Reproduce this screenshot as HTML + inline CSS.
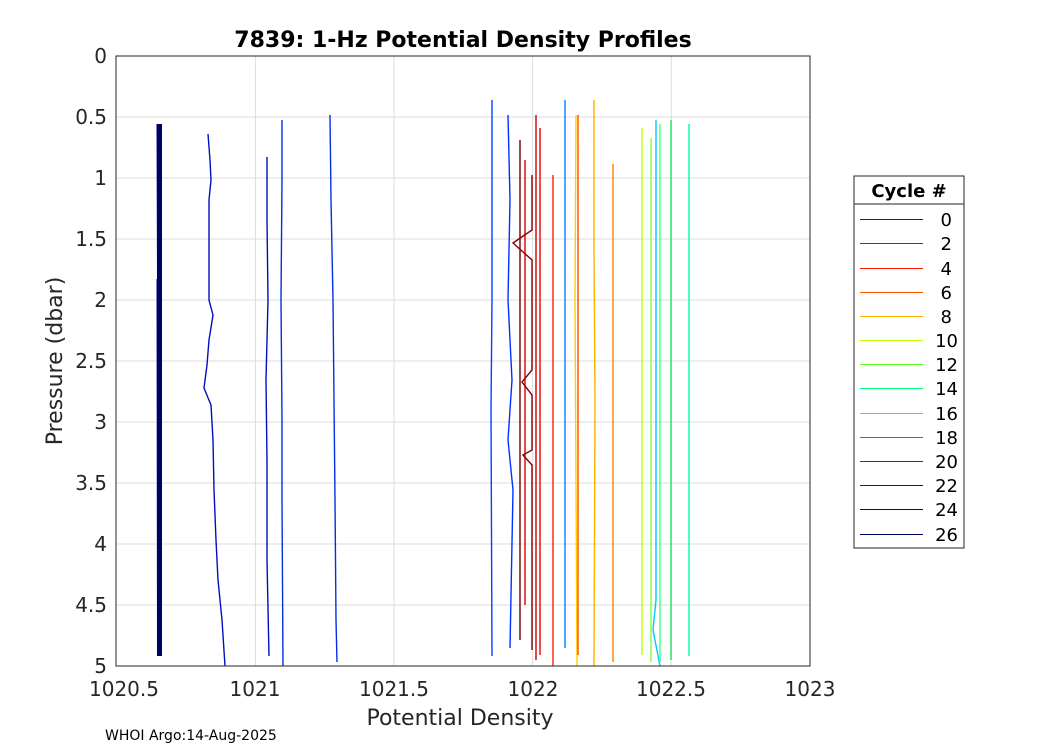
<!DOCTYPE html>
<html><head><meta charset="utf-8"><style>
body{margin:0;background:#fff;}
svg{display:block;font-family:"DejaVu Sans","Liberation Sans",sans-serif;}
</style></head><body>
<svg width="1050" height="750" viewBox="0 0 1050 750">
<rect width="1050" height="750" fill="#fff"/>
<g stroke="#dcdcdc" stroke-width="1">
<line x1="255.4" y1="56" x2="255.4" y2="666"/><line x1="394" y1="56" x2="394" y2="666"/><line x1="532.6" y1="56" x2="532.6" y2="666"/><line x1="671.2" y1="56" x2="671.2" y2="666"/>
<line x1="116" y1="117" x2="810" y2="117"/><line x1="116" y1="178" x2="810" y2="178"/><line x1="116" y1="239" x2="810" y2="239"/><line x1="116" y1="300" x2="810" y2="300"/><line x1="116" y1="361" x2="810" y2="361"/><line x1="116" y1="422" x2="810" y2="422"/><line x1="116" y1="483" x2="810" y2="483"/><line x1="116" y1="544" x2="810" y2="544"/><line x1="116" y1="605" x2="810" y2="605"/>
</g>
<g fill="none" stroke-width="1.4">
<polyline stroke="#000066" stroke-width="4" points="160,124 160,656"/>
<polyline stroke="#000066" stroke-width="2" points="157.5,124 158,280 157.5,280 158,656"/>
<polyline stroke="#0010c0" points="208,134 210,160 211,180 209,200 209,300 213,315 209,340 207,365 204,388 211,405 213,440 214,490 216,540 218,580 222,620 225,666"/>
<polyline stroke="#0010c0" points="267,157 267,220 268,300 266,380 267,460 267,560 269,656"/>
<polyline stroke="#0030e0" points="282,120 282,180 281,300 282,420 282,500 283,666"/>
<polyline stroke="#0030e0" points="330,115 331,200 333,300 334,400 335,500 336,620 337,662"/>
<polyline stroke="#0040ff" points="492,100 492,300 491,410 492,656"/>
<polyline stroke="#0030ff" points="508,115 510,200 508,300 512,380 508,440 513,490 510,648"/>
<polyline stroke="#700000" points="520,140 520,640"/>
<polyline stroke="#dd0000" points="525,160 525,605"/>
<polyline stroke="#880000" points="532,175 532,230 513,243 532,260 532,370 522,382 532,395 532,450 523,455 532,465 532,650"/>
<polyline stroke="#cc0000" points="536,115 536,660"/>
<polyline stroke="#ee0000" points="540,128 540,655"/>
<polyline stroke="#ff2000" points="553,175 553,666"/>
<polyline stroke="#0080ff" points="565,100 565,648"/>
<polyline stroke="#ffd000" points="576,115 575,300 577,666"/>
<polyline stroke="#ff5000" points="578,115 578,655"/>
<polyline stroke="#ffb000" points="594,100 594,250 595,400 594,666"/>
<polyline stroke="#ff8000" points="613,164 613,662"/>
<polyline stroke="#c0ff00" points="642,128 642,655"/>
<polyline stroke="#80ff40" points="651,138 651,662"/>
<polyline stroke="#00c8ff" points="656,120 656,600 653,630 660,666"/>
<polyline stroke="#40ff80" points="660,124 660,662"/>
<polyline stroke="#20e060" points="671,120 671,660"/>
<polyline stroke="#00ffa0" points="689,124 689,656"/>
</g>
<rect x="116" y="56" width="694" height="610" fill="none" stroke="#262626" stroke-width="1"/>
<g font-size="20" fill="#262626" text-anchor="end">
<text x="107" y="63">0</text><text x="107" y="124">0.5</text><text x="107" y="185">1</text><text x="107" y="246">1.5</text><text x="107" y="307">2</text><text x="107" y="368">2.5</text><text x="107" y="429">3</text><text x="107" y="490">3.5</text><text x="107" y="551">4</text><text x="107" y="612">4.5</text><text x="107" y="673">5</text>
</g>
<g font-size="20" fill="#262626" text-anchor="middle">
<text x="124" y="696">1020.5</text><text x="255" y="696">1021</text><text x="394" y="696">1021.5</text><text x="533" y="696">1022</text><text x="671" y="696">1022.5</text><text x="810" y="696">1023</text>
<text x="460" y="725" font-size="22">Potential Density</text>
<text x="463" y="47" font-size="22" font-weight="bold" fill="#000">7839: 1-Hz Potential Density Profiles</text>
</g>
<text transform="translate(62,361) rotate(-90)" font-size="22" fill="#262626" text-anchor="middle">Pressure (dbar)</text>
<text x="105" y="740" font-size="14" fill="#000">WHOI Argo:14-Aug-2025</text>
<rect x="854" y="176" width="110" height="372" fill="#fff" stroke="#262626"/>
<line x1="854" y1="204" x2="964" y2="204" stroke="#262626"/>
<text x="909" y="197" font-size="18" font-weight="bold" text-anchor="middle">Cycle #</text>
<g font-size="18" fill="#000" text-anchor="end">
<g stroke-width="1">
<line x1="860" x2="923" y1="219.5" y2="219.5" stroke="#800000"/>
<line x1="860" x2="923" y1="243.5" y2="243.5" stroke="#e00000"/>
<line x1="860" x2="923" y1="268.5" y2="268.5" stroke="#ff1000"/>
<line x1="860" x2="923" y1="292.5" y2="292.5" stroke="#ff5000"/>
<line x1="860" x2="923" y1="316.5" y2="316.5" stroke="#ffb000"/>
<line x1="860" x2="923" y1="340.5" y2="340.5" stroke="#c0ff00"/>
<line x1="860" x2="923" y1="364.5" y2="364.5" stroke="#60ff20"/>
<line x1="860" x2="923" y1="388.5" y2="388.5" stroke="#00ff80"/>
<line x1="860" x2="923" y1="413.5" y2="413.5" stroke="#00f0f0"/>
<line x1="860" x2="923" y1="437.5" y2="437.5" stroke="#0080ff"/>
<line x1="860" x2="923" y1="461.5" y2="461.5" stroke="#0030f0"/>
<line x1="860" x2="923" y1="485.5" y2="485.5" stroke="#0010d0"/>
<line x1="860" x2="923" y1="509.5" y2="509.5" stroke="#0000a0"/>
<line x1="860" x2="923" y1="534.5" y2="534.5" stroke="#000060"/>
</g>
<text x="952" y="226">0</text><text x="952" y="250">2</text><text x="952" y="275">4</text><text x="952" y="299">6</text><text x="952" y="323">8</text><text x="958" y="347">10</text><text x="958" y="371">12</text><text x="958" y="395">14</text><text x="958" y="420">16</text><text x="958" y="444">18</text><text x="958" y="468">20</text><text x="958" y="492">22</text><text x="958" y="516">24</text><text x="958" y="541">26</text>
</g>
</svg>
</body></html>
